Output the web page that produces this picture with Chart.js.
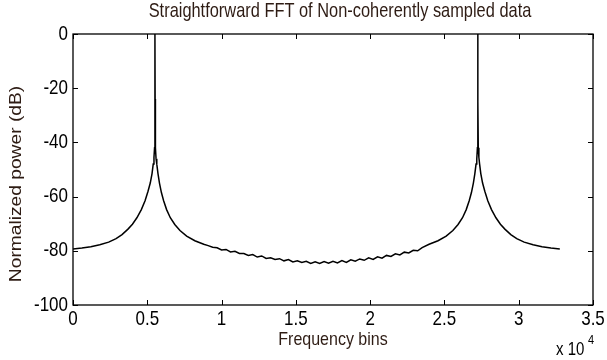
<!DOCTYPE html>
<html>
<head>
<meta charset="utf-8">
<script src="https://cdn.jsdelivr.net/npm/chart.js@4.4.0/dist/chart.umd.min.js"></script>
<style>
html, body { margin: 0; padding: 0; background: #fff; }
canvas { display: block; }
</style>
</head>
<body>
<canvas id="myChart" width="607" height="360"></canvas>
<script>
var chartTitle = "Straightforward FFT of Non-coherently sampled data"
var xLabel = "Frequency bins"
var yLabel = "Normalized power (dB)"

var bins = [
    0, 600, 1200, 1800, 2400, 2900, 3300, 3700, 4000, 4300, 4600, 4850, 5050, 5200, 5320, 5400, 5450, 5490, 5510,
    5519,
    5528, 5548, 5590, 5640, 5720, 5820, 5950, 6100, 6300, 6550, 6850, 7200, 7650, 8200, 8800,
    9100, 9400, 9700, 10000, 10300, 10600, 10900, 11200, 11500, 11800, 12100, 12400, 12700, 13000, 13300, 13600,
    13900, 14200, 14500, 14800, 15100, 15400, 15700, 16000, 16300, 16600, 16900, 17200, 17500, 17800, 18100,
    18400, 18700, 19000, 19300, 19600, 19900, 20200, 20500, 20800, 21100, 21400, 21700, 22000, 22300, 22600,
    22900, 23200, 23500,
    23968, 24568, 25118, 25568, 25918, 26218, 26468, 26668, 26818, 26948, 27048, 27128, 27178, 27220, 27240,
    27249,
    27258, 27278, 27318, 27368, 27448, 27568, 27718, 27918, 28168, 28468, 28768, 29068, 29468, 29868, 30368,
    30968, 31568, 32168, 32767
]
var power = [
    -79.3, -79.0, -78.5, -77.8, -76.8, -75.5, -74.0, -72.0, -70.2, -67.8, -64.8, -61.5, -58.0, -55.0, -51.5, -48.0, -45.5, -42.0, -25.0,
    0,
    -24.0, -42.0, -46.0, -48.0, -51.5, -55.0, -58.5, -61.5, -64.8, -67.8, -70.3, -72.5, -74.6, -76.3, -77.6,
    -78.1, -78.7, -78.9, -79.7, -79.5, -80.4, -80.2, -81.0, -81.0, -81.7, -81.4, -82.3, -81.9, -82.8, -82.6, -83.2,
    -82.9, -83.7, -83.2, -84.1, -83.7, -84.3, -83.9, -84.7, -84.1, -84.7, -84.0, -84.6, -83.9, -84.5, -83.6,
    -84.3, -83.3, -83.8, -83.0, -83.5, -82.6, -83.2, -82.2, -82.7, -81.7, -82.1, -81.1, -81.5, -80.5, -80.8,
    -79.8, -80.0, -78.8,
    -77.6, -76.3, -74.6, -72.5, -70.3, -67.8, -64.8, -61.5, -58.5, -55.0, -51.5, -48.0, -46.0, -42.0, -24.0,
    0,
    -25.0, -42.0, -45.5, -48.0, -51.5, -55.0, -58.0, -61.5, -64.8, -67.8, -70.2, -72.0, -74.0, -75.5, -76.8,
    -77.8, -78.5, -79.0, -79.3
]

var xTicks = [0, 5000, 10000, 15000, 20000, 25000, 30000, 35000]
var xTickLabels = ["0", "0.5", "1", "1.5", "2", "2.5", "3", "3.5"]
var yTicks = [-100, -80, -60, -40, -20, 0]
var yTickLabels = ["-100", "-80", "-60", "-40", "-20", "0"]

var textFont = '"Liberation Sans", Arial, sans-serif'
var labelColor = "#2e1c14"
var stretch = 1.2   // the picture's text is drawn a bit taller than wide

var points = []
for (var i = 0; i < bins.length; i++) {
    points.push({x: bins[i], y: power[i]})
}

function tallText(ctx, text, x, y, size, align, rotate) {
    ctx.save()
    ctx.translate(x, y)
    ctx.scale(1, stretch)
    if (rotate) ctx.rotate(-Math.PI / 2)
    ctx.font = size + "px " + textFont
    ctx.textAlign = align
    ctx.textBaseline = "middle"
    ctx.fillText(text, 0, 0)
    ctx.restore()
}

// matlab style box with inward ticks, and all the texts
var matlabAxes = {
    id: "matlabAxes",
    afterDraw: function(chart) {
        var ctx = chart.ctx
        var a = chart.chartArea
        var xs = chart.scales.x
        var ys = chart.scales.y
        ctx.save()
        ctx.strokeStyle = "#000"
        ctx.lineWidth = 1.3
        ctx.strokeRect(a.left, a.top, a.right - a.left, a.bottom - a.top)
        ctx.lineWidth = 1
        ctx.beginPath()
        xTicks.forEach(function(v) {
            var px = Math.round(xs.getPixelForValue(v)) + 0.5
            ctx.moveTo(px, a.bottom); ctx.lineTo(px, a.bottom - 5)
            ctx.moveTo(px, a.top); ctx.lineTo(px, a.top + 5)
        })
        yTicks.forEach(function(v) {
            var py = Math.round(ys.getPixelForValue(v)) + 0.5
            ctx.moveTo(a.left, py); ctx.lineTo(a.left + 5, py)
            ctx.moveTo(a.right, py); ctx.lineTo(a.right - 5, py)
        })
        ctx.stroke()

        ctx.fillStyle = "#000"
        xTicks.forEach(function(v, k) {
            tallText(ctx, xTickLabels[k], xs.getPixelForValue(v), a.bottom + 14, 17, "center")
        })
        yTicks.forEach(function(v, k) {
            tallText(ctx, yTickLabels[k], a.left - 5, ys.getPixelForValue(v), 17, "right")
        })
        tallText(ctx, "x 10", 556, 350, 15, "left")
        tallText(ctx, "4", 588, 340, 11, "left")

        ctx.fillStyle = labelColor
        tallText(ctx, chartTitle, (a.left + a.right) / 2 + 7, 12, 16.4, "center")
        tallText(ctx, xLabel, (a.left + a.right) / 2, 340, 16, "center")
        tallText(ctx, yLabel, 17, 184, 16, "center", true)
        ctx.restore()
    }
}

var myChart = document.getElementById("myChart").getContext("2d")

var chart = new Chart(myChart, {
    type: "scatter",
    data: {
        datasets: [
            {
                label: "spectrum",
                data: points,
                showLine: true,
                borderColor: "#000",
                borderWidth: 1.5,
                pointRadius: 0,
                tension: 0
            }
        ]
    },
    options: {
        responsive: false,
        animation: false,
        layout: {padding: {top: 34, right: 14, left: 0, bottom: 0}},
        plugins: {
            legend: {display: false},
            tooltip: {enabled: false},
            title: {display: false}
        },
        scales: {
            x: {
                type: "linear",
                min: 0,
                max: 35000,
                grid: {display: false},
                border: {display: false},
                ticks: {display: false},
                afterBuildTicks: function(scale) {
                    scale.ticks = xTicks.map(function(v) { return {value: v} })
                },
                afterFit: function(scale) { scale.height = 55 }
            },
            y: {
                type: "linear",
                min: -100,
                max: 0,
                grid: {display: false},
                border: {display: false},
                ticks: {display: false},
                afterBuildTicks: function(scale) {
                    scale.ticks = yTicks.map(function(v) { return {value: v} })
                },
                afterFit: function(scale) { scale.width = 73 }
            }
        }
    },
    plugins: [matlabAxes]
})
</script>
</body>
</html>
